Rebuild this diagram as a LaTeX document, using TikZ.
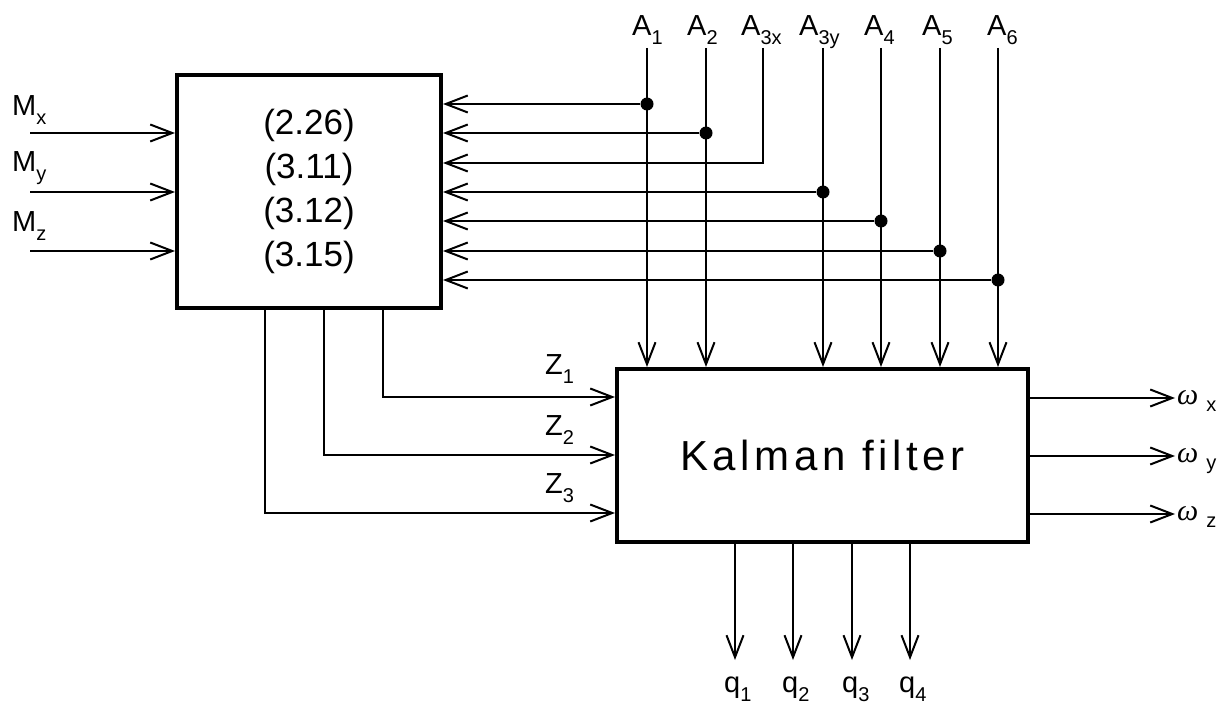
\documentclass[tikz,border=0pt]{standalone}
\usepackage{fontspec}
\setmainfont{Liberation Sans}
\newfontfamily\grkfont{Liberation Serif}
\usetikzlibrary{arrows.meta}
\newcommand\idx[2]{#1\raisebox{-9pt}{\fontsize{20}{20}\selectfont #2}}
\newcommand\om{{\grkfont\itshape\fontsize{30}{30}\selectfont ω}}

\begin{document}
\begin{tikzpicture}[x=1pt,y=-1pt,
  blk/.style={draw,line width=4pt,inner sep=0pt},
  wire/.style={line width=2pt},
  flow/.style={wire,-{Straight Barb[length=22pt,width=17pt]}},
  lbl/.style={font=\fontsize{29}{29}\selectfont,anchor=base west,inner sep=0pt},
  jn/.style={circle,fill,inner sep=0pt,minimum size=13pt}
]
\useasboundingbox (0,0) rectangle (1230,711);
% blocks
\node[blk,minimum width=264pt,minimum height=233pt,align=center,
      font=\fontsize{35}{44}\selectfont] (eq) at (309,191.5)
      {(2.26)\\(3.11)\\(3.12)\\(3.15)};
\node[blk,minimum width=411pt,minimum height=173pt,
      font=\fontsize{42}{42}\selectfont\addfontfeature{LetterSpace=11}] (kf) at (822.5,455.5)
      {Kalman filter};
% inputs M
\coordinate (mx) at (30,133);
\coordinate (my) at (30,192);
\coordinate (mz) at (30,251);
\node[lbl] (mxl) at (12,116) {\idx{M}{x}};
\node[lbl] (myl) at (12,172) {\idx{M}{y}};
\node[lbl] (mzl) at (12,232) {\idx{M}{z}};
\draw[flow] (mx) -- (mx -| eq.west);
\draw[flow] (my) -- (my -| eq.west);
\draw[flow] (mz) -- (mz -| eq.west);
% inputs A
\coordinate (a1) at (647,48);
\coordinate (a2) at (706,48);
\coordinate (a3x) at (763,48);
\coordinate (a3y) at (823,48);
\coordinate (a4) at (881,48);
\coordinate (a5) at (940,48);
\coordinate (a6) at (998,48);
\node[lbl] (a1l) at (632,36) {\idx{A}{1}};
\node[lbl] (a2l) at (687,36) {\idx{A}{2}};
\node[lbl] (a3xl) at (741,36) {\idx{A}{3x}};
\node[lbl] (a3yl) at (799,36) {\idx{A}{3y}};
\node[lbl] (a4l) at (864,36) {\idx{A}{4}};
\node[lbl] (a5l) at (922,36) {\idx{A}{5}};
\node[lbl] (a6l) at (987,36) {\idx{A}{6}};
\node[jn] (j1) at (647,104) {};
\node[jn] (j2) at (706,133) {};
\coordinate (k3) at (763,163);
\node[jn] (j3) at (823,192) {};
\node[jn] (j4) at (881,221) {};
\node[jn] (j5) at (940,251) {};
\node[jn] (j6) at (998,280) {};
\draw[flow] (a1) -- (a1 |- kf.north);
\draw[flow] (a2) -- (a2 |- kf.north);
\draw[flow] (a3y) -- (a3y |- kf.north);
\draw[flow] (a4) -- (a4 |- kf.north);
\draw[flow] (a5) -- (a5 |- kf.north);
\draw[flow] (a6) -- (a6 |- kf.north);
\draw[flow] (j1) -- (j1 -| eq.east);
\draw[flow] (j2) -- (j2 -| eq.east);
\draw[flow] (a3x) -- (k3) -- (k3 -| eq.east);
\draw[flow] (j3) -- (j3 -| eq.east);
\draw[flow] (j4) -- (j4 -| eq.east);
\draw[flow] (j5) -- (j5 -| eq.east);
\draw[flow] (j6) -- (j6 -| eq.east);
% Z links
\coordinate (z1) at (383,397);
\coordinate (z2) at (324,455);
\coordinate (z3) at (265,513);
\draw[flow] (z1 |- eq.south) -- (z1) -- (z1 -| kf.west);
\draw[flow] (z2 |- eq.south) -- (z2) -- (z2 -| kf.west);
\draw[flow] (z3 |- eq.south) -- (z3) -- (z3 -| kf.west);
\node[lbl] (z1l) at (545,374) {\idx{Z}{1}};
\node[lbl] (z2l) at (545,435) {\idx{Z}{2}};
\node[lbl] (z3l) at (545,493) {\idx{Z}{3}};
% outputs omega
\coordinate (wx) at (1175,398);
\coordinate (wy) at (1175,456);
\coordinate (wz) at (1175,514);
\draw[flow] (wx -| kf.east) -- (wx);
\draw[flow] (wy -| kf.east) -- (wy);
\draw[flow] (wz -| kf.east) -- (wz);
\node[lbl] (wxl) at (1177,404) {\om\hspace{8pt}\raisebox{-7pt}{\fontsize{20}{20}\selectfont x}};
\node[lbl] (wyl) at (1177,462) {\om\hspace{8pt}\raisebox{-7pt}{\fontsize{20}{20}\selectfont y}};
\node[lbl] (wzl) at (1177,520) {\om\hspace{8pt}\raisebox{-7pt}{\fontsize{20}{20}\selectfont z}};
% outputs q
\coordinate (q1) at (735,660);
\coordinate (q2) at (793,660);
\coordinate (q3) at (852,660);
\coordinate (q4) at (910,660);
\draw[flow] (q1 |- kf.south) -- (q1);
\draw[flow] (q2 |- kf.south) -- (q2);
\draw[flow] (q3 |- kf.south) -- (q3);
\draw[flow] (q4 |- kf.south) -- (q4);
\node[lbl] (q1l) at (724,692) {\idx{q}{1}};
\node[lbl] (q2l) at (782,692) {\idx{q}{2}};
\node[lbl] (q3l) at (842,692) {\idx{q}{3}};
\node[lbl] (q4l) at (899,692) {\idx{q}{4}};
\end{tikzpicture}
\end{document}
